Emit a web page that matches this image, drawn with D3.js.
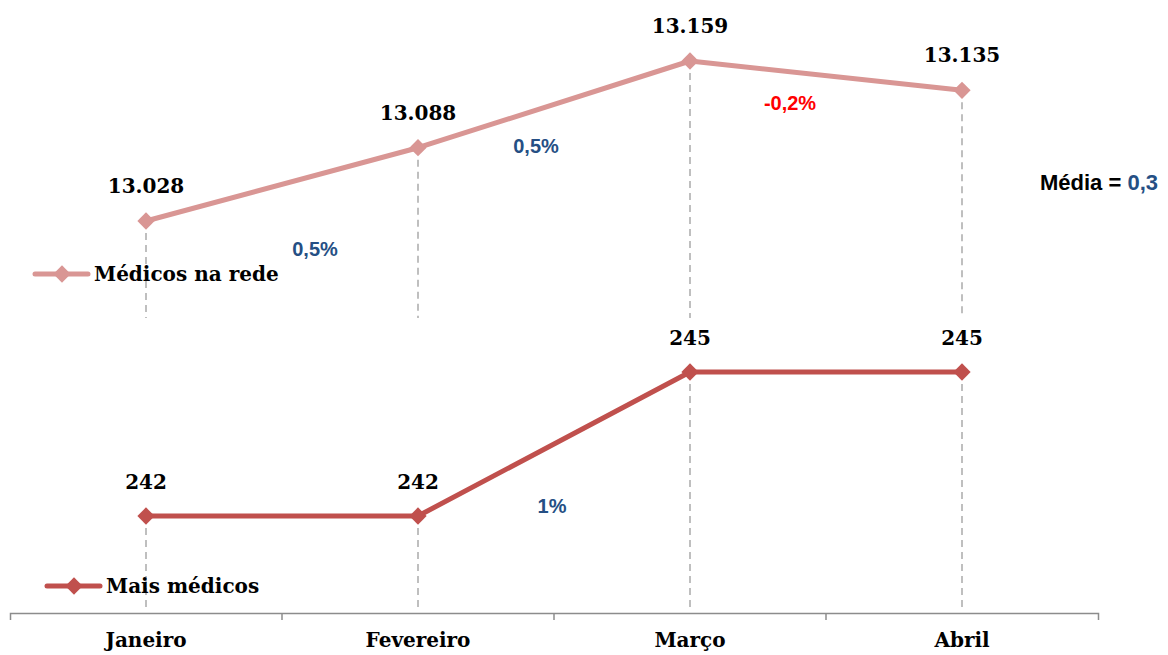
<!DOCTYPE html>
<html>
<head>
<meta charset="utf-8">
<script src="https://cdn.jsdelivr.net/npm/d3@7"></script>
<style>
  body { margin: 0; background: #fff; }
  svg { display: block; }
</style>
</head>
<body>
<svg id="chart"></svg>
<script>
const months = ["Janeiro", "Fevereiro", "Março", "Abril"];
const medicosRede = [13028, 13088, 13159, 13135];
const maisMedicos = [242, 242, 245, 245];
// change between consecutive months (label shown after month i)
const redeChanges = ["0,5%", "0,5%", "-0,2%"];
const maisChanges = [null, "1%", null];
const mediaLabel = "Média = ";
const mediaValue = "0,3";

const width = 1168;
const height = 655;
const serif = "'DejaVu Serif', serif";
const sans = "'Liberation Sans', Arial, sans-serif";
const blue = "#254f84";

const svg = d3.select("#chart").attr("width", width).attr("height", height);

const pt = d3.formatLocale({ decimal: ",", thousands: ".", grouping: [3], currency: ["R$", ""] });
const fmt = pt.format(",d");

const x = d3.scaleBand().domain(months).range([10, 1098]);
const cx = (m) => x(m) + x.bandwidth() / 2;

const yTop = d3.scaleLinear().domain([13028, 13159]).range([221, 61]);
const yBot = d3.scaleLinear().domain([242, 245]).range([516, 372]);

// axis
const axis = svg.append("g")
  .attr("transform", "translate(0,613)")
  .call(d3.axisBottom(x).tickSizeInner(0).tickSizeOuter(7).tickPadding(20));
axis.select(".domain").attr("stroke", "#8c8c8c").attr("stroke-width", 1.5);
axis.selectAll("text")
  .attr("font-family", serif).attr("font-weight", "bold")
  .attr("font-size", 20).attr("fill", "#000");
axis.selectAll(".inner")
  .data(months.slice(0, -1))
  .join("line")
  .attr("x1", (d) => x(d) + x.bandwidth())
  .attr("x2", (d) => x(d) + x.bandwidth())
  .attr("y1", 0).attr("y2", 7)
  .attr("stroke", "#8c8c8c").attr("stroke-width", 1.5);

const diamond = d3.symbol().type(d3.symbolDiamond2).size(190);

function panel(values, y, color, dropTo, labelGap, name, legendX, legendY, changes, changeOffsets, changeColors) {
  const g = svg.append("g");
  // drop lines
  g.selectAll(".drop")
    .data(values)
    .join("line")
    .attr("x1", (d, i) => cx(months[i]))
    .attr("x2", (d, i) => cx(months[i]))
    .attr("y1", (d) => y(d))
    .attr("y2", dropTo)
    .attr("stroke", "#bfbfbf")
    .attr("stroke-width", 2)
    .attr("stroke-dasharray", "7,5");

  const line = d3.line().x((d, i) => cx(months[i])).y((d) => y(d));
  g.append("path")
    .attr("d", line(values))
    .attr("fill", "none")
    .attr("stroke", color)
    .attr("stroke-width", 5)
    .attr("stroke-linejoin", "round");

  g.selectAll(".mark")
    .data(values)
    .join("path")
    .attr("transform", (d, i) => `translate(${cx(months[i])},${y(d)})`)
    .attr("d", diamond)
    .attr("fill", color);

  g.selectAll(".val")
    .data(values)
    .join("text")
    .attr("x", (d, i) => cx(months[i]))
    .attr("y", (d) => y(d) - labelGap)
    .attr("text-anchor", "middle")
    .attr("font-family", serif)
    .attr("font-weight", "bold")
    .attr("font-size", 20)
    .text((d) => fmt(d));

  g.selectAll(".chg")
    .data(changes.map((c, i) => ({ c, i })).filter((d) => d.c))
    .join("text")
    .attr("x", (d) => (cx(months[d.i]) + cx(months[d.i + 1])) / 2 + changeOffsets[d.i][0])
    .attr("y", (d) => (y(values[d.i]) + y(values[d.i + 1])) / 2 + changeOffsets[d.i][1])
    .attr("text-anchor", "middle")
    .attr("dominant-baseline", "middle")
    .attr("font-family", sans)
    .attr("font-weight", "bold")
    .attr("font-size", 20)
    .attr("fill", (d) => changeColors[d.i])
    .text((d) => d.c);

  // legend
  const lg = g.append("g").attr("transform", `translate(${legendX},${legendY})`);
  lg.append("line").attr("x1", 0).attr("x2", 53).attr("stroke", color).attr("stroke-width", 5).attr("stroke-linecap", "round");
  lg.append("path").attr("transform", "translate(27,0)").attr("d", diamond).attr("fill", color);
  lg.append("text").attr("x", 59).attr("dy", "0.35em")
    .attr("font-family", serif).attr("font-weight", "bold").attr("font-size", 20)
    .text(name);
}

panel(medicosRede, yTop, "#d99694", 318, 28, "Médicos na rede", 35, 274,
  redeChanges, [[33, 66], [-18, 43], [-36, 29]], [blue, blue, "#ff0000"]);
panel(maisMedicos, yBot, "#c0504d", 610, 27, "Mais médicos", 47, 586,
  maisChanges, [[0, 0], [-2, 64], [0, 0]], [blue, blue, blue]);

const media = svg.append("text")
  .attr("x", 1040).attr("y", 190)
  .attr("font-family", sans).attr("font-weight", "bold").attr("font-size", 22);
media.append("tspan").attr("fill", "#000").text(mediaLabel);
media.append("tspan").attr("fill", blue).text(mediaValue);
</script>
</body>
</html>
